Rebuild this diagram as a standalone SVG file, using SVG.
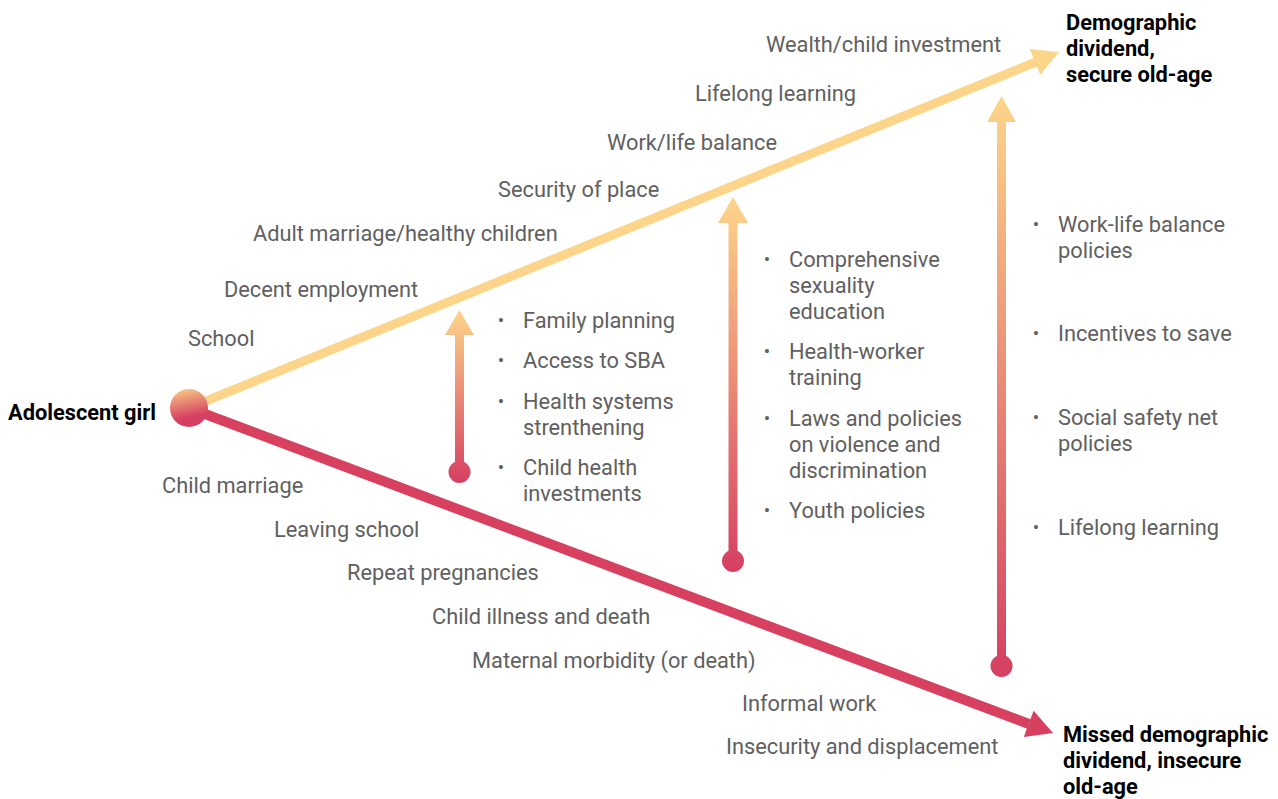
<svg xmlns="http://www.w3.org/2000/svg" width="1278" height="799" viewBox="0 0 1278 799">
<style>
.t{font-family:Roboto,"Liberation Sans",sans-serif;font-size:21.8px;fill:#606060}
.b{font-family:Roboto,"Liberation Sans",sans-serif;font-size:21.8px;font-weight:bold;fill:#000}
.bl{font-family:Roboto,"Liberation Sans",sans-serif;font-size:19px;fill:#606060;text-anchor:middle}
</style>
<defs>
<linearGradient id="g1" gradientUnits="userSpaceOnUse" x1="0" y1="310" x2="0" y2="483">
<stop offset="0" stop-color="#FDD58A"/><stop offset="1" stop-color="#D63F62"/>
</linearGradient>
<linearGradient id="g2" gradientUnits="userSpaceOnUse" x1="0" y1="197" x2="0" y2="572">
<stop offset="0" stop-color="#FDD58A"/><stop offset="1" stop-color="#D63F62"/>
</linearGradient>
<linearGradient id="g3" gradientUnits="userSpaceOnUse" x1="0" y1="96" x2="0" y2="677">
<stop offset="0" stop-color="#FDD58A"/><stop offset="1" stop-color="#D63F62"/>
</linearGradient>
<linearGradient id="gc" x1="0.35" y1="0" x2="0.5" y2="0.75">
<stop offset="0" stop-color="#F7C583"/><stop offset="1" stop-color="#D63F62"/>
</linearGradient>
</defs>
<g id="connectors">
<line x1="189" y1="408" x2="1036" y2="62" stroke="#FDD58A" stroke-width="9"/>
<polygon points="1059,52 1029.7,48.9 1040.3,74.8" fill="#FDD58A"/>
<line x1="189" y1="408" x2="1029" y2="724" stroke="#D7405F" stroke-width="10"/>
<polygon points="1053,733 1033.6,710.7 1023.8,736.9" fill="#D7405F"/>
<g id="arrow1" fill="url(#g1)">
<rect x="455" y="332" width="9" height="140"/>
<polygon points="459.5,310 445,335 474,335"/>
<circle cx="459.5" cy="472" r="11"/>
</g>
<g id="arrow2" fill="url(#g2)">
<rect x="728.5" y="220" width="9" height="341"/>
<polygon points="733,197 718,223 748,223"/>
<circle cx="733" cy="561" r="11"/>
</g>
<g id="arrow3" fill="url(#g3)">
<rect x="997" y="120" width="9" height="546"/>
<polygon points="1001.5,96 987,122 1016,122"/>
<circle cx="1001.5" cy="666" r="11"/>
</g>
</g>
<g id="origin">
<circle cx="189" cy="408" r="19" fill="url(#gc)"/>
<text class="b" x="8" y="420">Adolescent girl</text>
</g>
<g id="good-outcome">
<text class="b" x="1066" y="30">Demographic</text>
<text class="b" x="1066" y="56">dividend,</text>
<text class="b" x="1066" y="82">secure old-age</text>
</g>
<g id="bad-outcome">
<text class="b" x="1063" y="742">Missed demographic</text>
<text class="b" x="1063" y="768">dividend, insecure</text>
<text class="b" x="1063" y="794">old-age</text>
</g>
<g id="upper-labels">
<text class="t" x="766" y="52">Wealth/child investment</text>
<text class="t" x="695" y="101">Lifelong learning</text>
<text class="t" x="607" y="150">Work/life balance</text>
<text class="t" x="498" y="197">Security of place</text>
<text class="t" x="253" y="241">Adult marriage/healthy children</text>
<text class="t" x="224" y="297">Decent employment</text>
<text class="t" x="188" y="346">School</text>
</g>
<g id="lower-labels">
<text class="t" x="162" y="493">Child marriage</text>
<text class="t" x="274" y="537">Leaving school</text>
<text class="t" x="347" y="580">Repeat pregnancies</text>
<text class="t" x="432" y="624">Child illness and death</text>
<text class="t" x="472" y="668">Maternal morbidity (or death)</text>
<text class="t" x="742" y="711">Informal work</text>
<text class="t" x="726" y="754">Insecurity and displacement</text>
</g>
<g id="list1">
<text class="bl" x="501" y="327">•</text>
<text class="t" x="523" y="328">Family planning</text>
<text class="bl" x="501" y="367">•</text>
<text class="t" x="523" y="368">Access to SBA</text>
<text class="bl" x="501" y="408">•</text>
<text class="t" x="523" y="409">Health systems</text>
<text class="t" x="523" y="435">strenthening</text>
<text class="bl" x="501" y="474">•</text>
<text class="t" x="523" y="475">Child health</text>
<text class="t" x="523" y="501">investments</text>
</g>
<g id="list2">
<text class="bl" x="767" y="266">•</text>
<text class="t" x="789" y="267">Comprehensive</text>
<text class="t" x="789" y="293">sexuality</text>
<text class="t" x="789" y="319">education</text>
<text class="bl" x="767" y="358">•</text>
<text class="t" x="789" y="359">Health-worker</text>
<text class="t" x="789" y="385">training</text>
<text class="bl" x="767" y="425">•</text>
<text class="t" x="789" y="426">Laws and policies</text>
<text class="t" x="789" y="452">on violence and</text>
<text class="t" x="789" y="478">discrimination</text>
<text class="bl" x="767" y="517">•</text>
<text class="t" x="789" y="518">Youth policies</text>
</g>
<g id="list3">
<text class="bl" x="1036" y="231">•</text>
<text class="t" x="1058" y="232">Work-life balance</text>
<text class="t" x="1058" y="258">policies</text>
<text class="bl" x="1036" y="340">•</text>
<text class="t" x="1058" y="341">Incentives to save</text>
<text class="bl" x="1036" y="424">•</text>
<text class="t" x="1058" y="425">Social safety net</text>
<text class="t" x="1058" y="451">policies</text>
<text class="bl" x="1036" y="534">•</text>
<text class="t" x="1058" y="535">Lifelong learning</text>
</g>
</svg>
